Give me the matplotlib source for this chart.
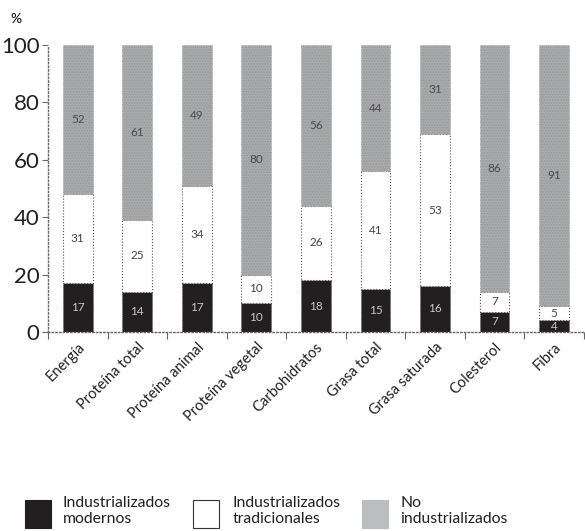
import numpy as np
import matplotlib
matplotlib.use("Agg")
import matplotlib.pyplot as plt
from matplotlib.patches import Rectangle

plt.rcParams['font.family'] = ['Lato', 'DejaVu Sans']
plt.rcParams['hatch.color'] = "#c4c4c6"
plt.rcParams['hatch.linewidth'] = 0.8

# data (%)
categorias = ["Energía", "Proteína total", "Proteína animal", "Proteína vegetal",
              "Carbohidratos", "Grasa total", "Grasa saturada", "Colesterol", "Fibra"]
modernos = [17, 14, 17, 10, 18, 15, 16, 7, 4]
tradicionales = [31, 25, 34, 10, 26, 41, 53, 7, 5]
no_industrializados = [52, 61, 49, 80, 56, 44, 31, 86, 91]
series_labels = ["Industrializados\nmodernos", "Industrializados\ntradicionales",
                 "No\nindustrializados"]
yticks = [0, 20, 40, 60, 80, 100]

BLACK = "#231f20"
WHITE = "#ffffff"
GREY = "#a9aaac"

fig = plt.figure(figsize=(5.85, 5.31), dpi=100)
ax = fig.add_axes([0.082, 0.375, 0.916, 0.54])

x = np.arange(len(categorias))
w = 0.5
mod = np.array(modernos)
tra = np.array(tradicionales)
noi = np.array(no_industrializados)

ax.bar(x, mod, w, color=BLACK, edgecolor="#555555", linewidth=0.6, linestyle=":")
ax.bar(x, tra, w, bottom=mod, color=WHITE, edgecolor="#555555", linewidth=0.8, linestyle=":")
ax.bar(x, noi, w, bottom=mod + tra, color=GREY, edgecolor="#9a9a9a", linewidth=0.6,
       linestyle=":", hatch="......")

# value labels
for i in range(len(x)):
    ax.text(x[i], mod[i] / 2, str(mod[i]), ha="center", va="center",
            fontsize=8.5, color="#c8c8c8")
    ax.text(x[i], mod[i] + tra[i] / 2, str(tra[i]), ha="center", va="center",
            fontsize=8.5, color="#444444")
    ax.text(x[i], mod[i] + tra[i] + noi[i] / 2, str(noi[i]), ha="center", va="center",
            fontsize=8.5, color="#4a4a4a")

ax.set_xlim(-0.5, len(categorias) - 0.5)
ax.set_ylim(0, 100)
ax.set_yticks(yticks)
ax.set_yticklabels([str(v) for v in yticks], fontsize=16, color="#231f20")
ax.set_xticks(x)
ax.set_xticklabels(categorias, rotation=45, ha="right", rotation_mode="anchor",
                   fontsize=10.5, color="#231f20")
ax.set_xticks(np.arange(-0.5, len(categorias)), minor=True)
ax.tick_params(axis="x", which="major", length=0, pad=6)
ax.tick_params(axis="x", which="minor", length=5, color="#666666", width=0.8)
ax.tick_params(axis="y", length=4, color="#666666", width=0.8, pad=2)

for s in ["top", "right"]:
    ax.spines[s].set_visible(False)
for s in ["left", "bottom"]:
    ax.spines[s].set_linestyle(":")
    ax.spines[s].set_color("#666666")
    ax.spines[s].set_linewidth(1.0)

fig.text(0.017, 0.965, "%", fontsize=10, ha="left", va="center")

# legend
colors = [BLACK, WHITE, "#bcbdc0"]
box_x = [25, 193, 362]
text_x = [63, 233, 400]
for c, bx, tx, lab in zip(colors, box_x, text_x, series_labels):
    fig.add_artist(Rectangle((bx / 585, (531 - 528) / 531), 26 / 585, 28 / 531,
                             transform=fig.transFigure, facecolor=c,
                             edgecolor="#333333" if c == WHITE else c, linewidth=0.8))
    fig.text(tx / 585, (531 - 511) / 531, lab, fontsize=11.3, ha="left", va="center",
             linespacing=1.15, color="#231f20")

fig.savefig("out.png", dpi=100)
